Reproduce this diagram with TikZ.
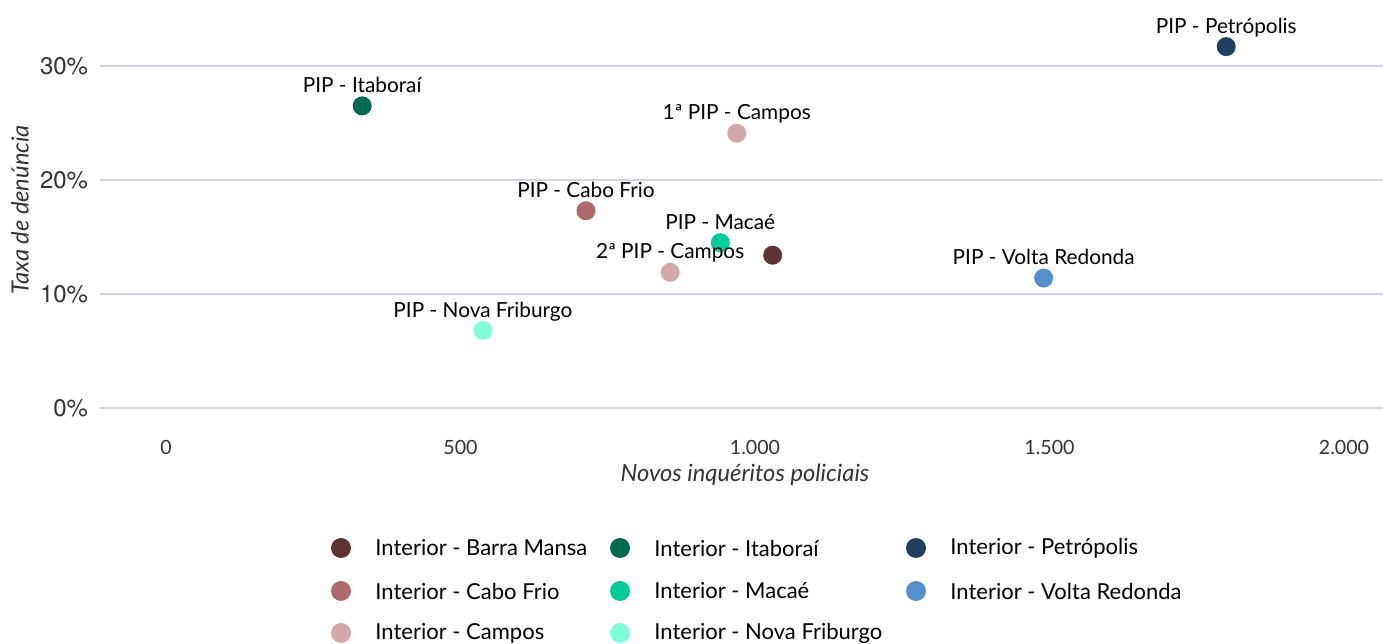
\documentclass[tikz,border=0pt]{standalone}
\usepackage{fontspec}
\setmainfont{Lato}
\newfontfamily\tickfont{TeX Gyre Heros}
\usepackage{tikz}
\usetikzlibrary{positioning}
\definecolor{gridgray}{RGB}{211,211,226}
\definecolor{textgray}{RGB}{51,51,51}
\definecolor{barramansa}{RGB}{94,51,51}
\definecolor{itaborai}{RGB}{0,107,79}
\definecolor{petropolis}{RGB}{31,63,95}
\definecolor{cabofrio}{RGB}{173,107,107}
\definecolor{macae}{RGB}{0,204,153}
\definecolor{voltaredonda}{RGB}{85,144,204}
\definecolor{campos}{RGB}{212,168,168}
\definecolor{friburgo}{RGB}{128,255,219}

\begin{document}
\begin{tikzpicture}[x=1pt, y=1pt]
		\tikzstyle{dot}=[circle, minimum size=19pt, inner sep=0pt, draw=none]
		\tikzstyle{lbl}=[font=\fontsize{20.8}{24}\selectfont, text=black, inner sep=0pt, text height=0.75em, text depth=0.25em]
		\tikzstyle{ytick}=[font=\tickfont\fontsize{24}{28}\selectfont, text=textgray, anchor=east, inner sep=0pt]
		\tikzstyle{xtick}=[font=\fontsize{19.6}{23}\selectfont, text=textgray, inner sep=0pt]
		\tikzstyle{legdot}=[circle, minimum size=20pt, inner sep=0pt, draw=none]
		\tikzstyle{legtxt}=[font=\fontsize{22}{26}\selectfont, text=black, anchor=west, inner sep=0pt]
		\tikzstyle{axtitle}=[font=\itshape\fontsize{23.7}{28}\selectfont, text=textgray]
		
		\useasboundingbox (0,0) rectangle (1383,644);
		
		%% plot area, data coordinates
		\begin{scope}[shift={(166,236)}, x=0.589pt, y=11.4pt]
		\foreach \y in {0,10,20,30}
		\draw [gridgray, line width=2pt] (-112,\y) -- (2066,\y);
		\foreach \y in {0,10,20,30}
		\node [ytick] (Y\y) at (-132,\y) {\y\%};
		\foreach \x/\t in {0/0,500/500,1000/1.000,1500/1.500,2000/2.000}
		\node [xtick] (X\x) at (\x,-3.5) {\t};
		
		\node [dot, fill=petropolis] (P1) at (1800,31.7) {};
		\node [lbl, above=1pt of P1] {PIP - Petrópolis};
		\node [dot, fill=itaborai] (P2) at (333,26.5) {};
		\node [lbl, above=1pt of P2] {PIP - Itaboraí};
		\node [dot, fill=campos] (P3) at (969,24.1) {};
		\node [lbl, above=1pt of P3] {1ª PIP - Campos};
		\node [dot, fill=cabofrio] (P4) at (713,17.3) {};
		\node [lbl, above=1pt of P4] {PIP - Cabo Frio};
		\node [dot, fill=barramansa] (P5) at (1030,13.4) {};
		\node [dot, fill=macae] (P6) at (941,14.5) {};
		\node [lbl, above=1pt of P6] {PIP - Macaé};
		\node [dot, fill=campos] (P7) at (856,11.9) {};
		\node [lbl, above=1pt of P7] {2ª PIP - Campos};
		\node [dot, fill=voltaredonda] (P8) at (1490,11.4) {};
		\node [lbl, above=1pt of P8] {PIP - Volta Redonda};
		\node [dot, fill=friburgo] (P9) at (538,6.8) {};
		\node [lbl, above=1pt of P9] {PIP - Nova Friburgo};
		\end{scope}
		
		%% axis titles
		\node [axtitle] (xt) at (745,169) {Novos inquéritos policiais};
		\node [axtitle, rotate=90] (yt) at (20,434) {Taxa de denúncia};
		
		%% legend
		\node [legdot, fill=barramansa] (G1) at (341,96) {};
		\node [legtxt, right=24pt of G1] {Interior - Barra Mansa};
		\node [legdot, fill=cabofrio] (G2) at (341,53) {};
		\node [legtxt, right=24pt of G2] {Interior - Cabo Frio};
		\node [legdot, fill=campos] (G3) at (341,11) {};
		\node [legtxt, right=24pt of G3] {Interior - Campos};
		\node [legdot, fill=itaborai] (G4) at (620,96) {};
		\node [legtxt, right=24pt of G4] {Interior - Itaboraí};
		\node [legdot, fill=macae] (G5) at (620,53) {};
		\node [legtxt, right=24pt of G5] {Interior - Macaé};
		\node [legdot, fill=friburgo] (G6) at (620,11) {};
		\node [legtxt, right=24pt of G6] {Interior - Nova Friburgo};
		\node [legdot, fill=petropolis] (G7) at (916,96) {};
		\node [legtxt, right=24pt of G7] {Interior - Petrópolis};
		\node [legdot, fill=voltaredonda] (G8) at (916,53) {};
		\node [legtxt, right=24pt of G8] {Interior - Volta Redonda};
\end{tikzpicture}
\end{document}
